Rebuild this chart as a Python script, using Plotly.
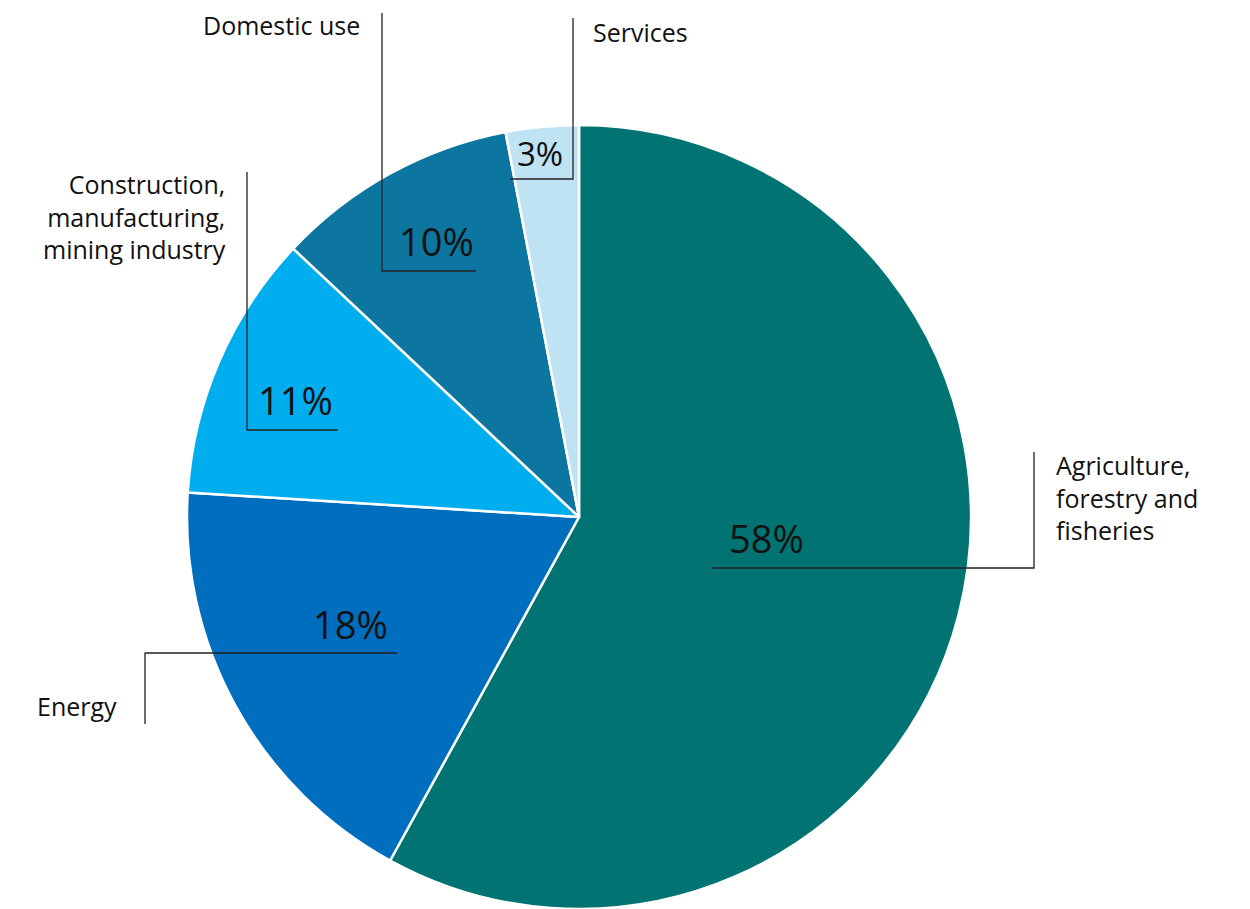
import plotly.graph_objects as go

categories = ["Agriculture, forestry and fisheries", "Energy",
              "Construction, manufacturing, mining industry", "Domestic use", "Services"]
label_text = ["Agriculture,<br>forestry and<br>fisheries", "Energy",
              "Construction,<br>manufacturing,<br>mining industry", "Domestic use", "Services"]
values = [58, 18, 11, 10, 3]
colors = ["#007372", "#006EBE", "#00AEEF", "#0D76A0", "#BFE3F3"]

W, H = 1250, 909
def px(x): return x / W
def py(y): return 1 - y / H

FONT = "'Open Sans', Lato, sans-serif"

fig = go.Figure(go.Pie(
    labels=categories, values=values, sort=False, direction="clockwise", rotation=0,
    marker=dict(colors=colors, line=dict(color="white", width=2.5)),
    textinfo="none", hoverinfo="label+percent", showlegend=False,
    domain=dict(x=[px(185), px(973)], y=[0, py(125)]),
))

pct_pos = [(766, 538), (350, 624), (295, 400), (436, 241), (540, 153)]
pct_size = [38, 38, 38, 38, 33]
lab_pos = [(1054, 497, "left"), (35, 706, "left"), (228, 217, "right"), (362, 25, "right"), (591, 32, "left")]

annotations = []
for v, (x, y), s in zip(values, pct_pos, pct_size):
    annotations.append(dict(x=px(x), y=py(y), xref="paper", yref="paper", text=f"{v}%",
                            showarrow=False, font=dict(family=FONT, size=s, color="#111111"),
                            xanchor="center", yanchor="middle"))
for t, (x, y, al) in zip(label_text, lab_pos):
    annotations.append(dict(x=px(x), y=py(y), xref="paper", yref="paper", text=t,
                            showarrow=False, font=dict(family=FONT, size=25, color="#111111"),
                            xanchor=al, yanchor="middle", align=al))

leaders = [
    [(712, 568), (1034, 568), (1034, 452)],
    [(397, 653), (145, 653), (145, 724)],
    [(338, 430), (247, 430), (247, 172)],
    [(476, 271), (382, 271), (382, 13)],
    [(510, 179), (573, 179), (573, 18)],
]
shapes = []
for pts in leaders:
    path = "M " + " L ".join(f"{px(x)},{py(y)}" for x, y in pts)
    shapes.append(dict(type="path", path=path, xref="paper", yref="paper",
                       line=dict(color="#222222", width=1.3)))

fig.update_layout(width=W, height=H, margin=dict(l=0, r=0, t=0, b=0),
                  paper_bgcolor="white", plot_bgcolor="white",
                  annotations=annotations, shapes=shapes)
fig.write_html("out.html", config={"displayModeBar": False},
               post_script="document.body.style.margin='0px';")
